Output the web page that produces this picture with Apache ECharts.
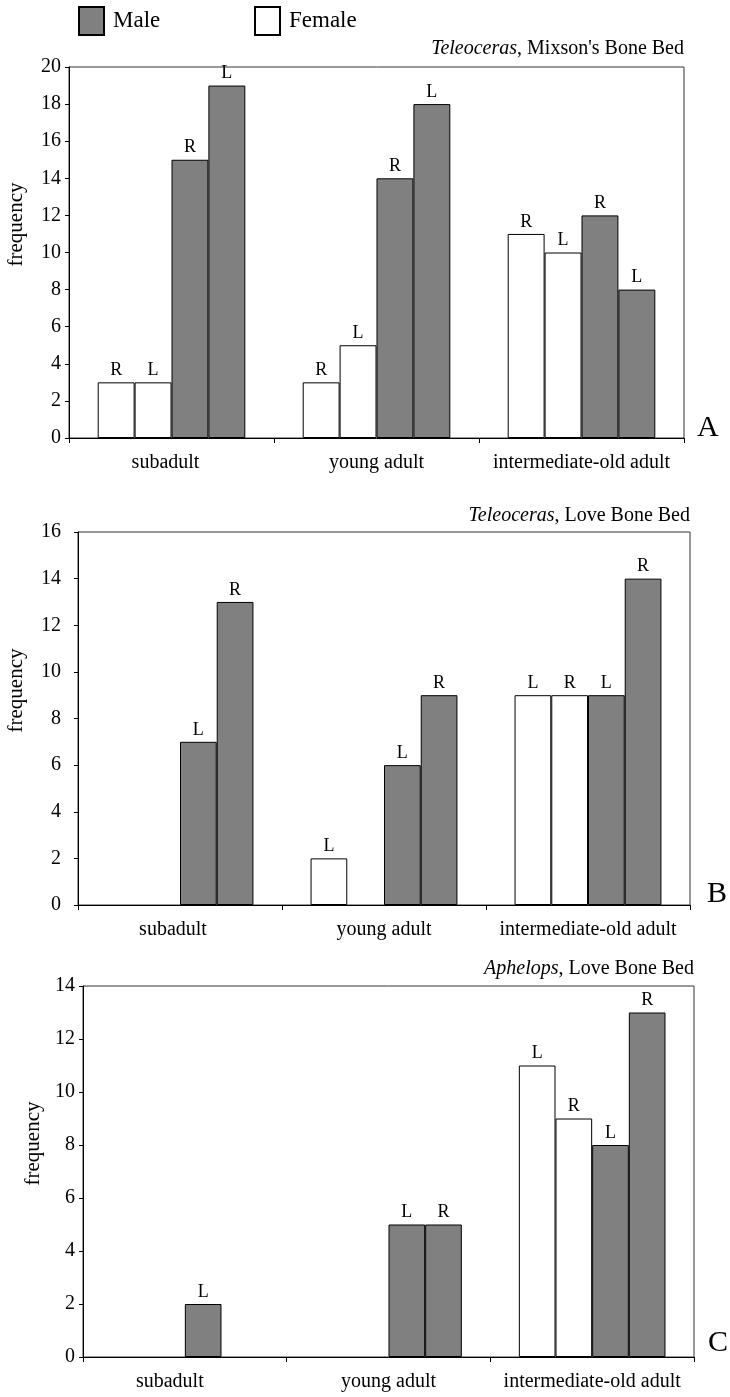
<!DOCTYPE html>
<html>
<head>
<meta charset="utf-8">
<script src="https://cdn.jsdelivr.net/npm/echarts@6/dist/echarts.min.js"></script>
<style>
  html, body { margin: 0; padding: 0; background: #fff; }
  #chart { width: 730px; height: 1397px; }
</style>
</head>
<body>
<div id="chart"></div>
<script>
// age classes, shared by the three panels
const categories = ['subadult', 'young adult', 'intermediate-old adult'];

// A: Teleoceras, Mixson's Bone Bed (slots: female, female, male, male)
const aFemale1 = [3, 3, 11];
const aFemale2 = [3, 5, 10];
const aMale1 = [15, 14, 12];
const aMale2 = [19, 18, 8];
const aSides = ['R', 'L', 'R', 'L'];

// B: Teleoceras, Love Bone Bed
const bFemale1 = [0, 2, 9];
const bFemale2 = [0, 0, 9];
const bMale1 = [7, 6, 9];
const bMale2 = [13, 9, 14];
const bSides = ['L', 'R', 'L', 'R'];

// C: Aphelops, Love Bone Bed
const cFemale1 = [0, 0, 11];
const cFemale2 = [0, 0, 9];
const cMale1 = [2, 5, 8];
const cMale2 = [0, 5, 13];
const cSides = ['L', 'R', 'L', 'R'];

const yMax = [20, 16, 14];

const FONT = '"Liberation Serif", "DejaVu Serif", serif';
const GRAY = '#808080';

function bar(name, gridIdx, values, side, color) {
  return {
    name: name,
    type: 'bar',
    xAxisIndex: gridIdx,
    yAxisIndex: gridIdx,
    barGap: '0%',
    barCategoryGap: '28%',
    data: values.map(v => (v === 0 ? '-' : v)),
    itemStyle: { color: color, borderColor: '#000', borderWidth: 1 },
    label: {
      show: true,
      position: 'top',
      distance: 3,
      formatter: side,
      color: '#000',
      fontFamily: FONT,
      fontSize: 18
    }
  };
}

function panel(idx, f1, f2, m1, m2, sides) {
  return [
    bar('Female', idx, f1, sides[0], '#fff'),
    bar('Female', idx, f2, sides[1], '#fff'),
    bar('Male', idx, m1, sides[2], GRAY),
    bar('Male', idx, m2, sides[3], GRAY)
  ];
}

const grids = [
  { left: 69, top: 67, width: 615, height: 371 },
  { left: 78, top: 532, width: 612, height: 373 },
  { left: 83, top: 986, width: 611, height: 371 }
];
const nameGaps = [42, 51, 38];
const tickMargins = [8, 17, 8];
// "subadult" sits a bit left of its category centre in the original
const firstShift = [6, 7, 15];

const legendBase = {
  icon: 'rect', padding: 0, itemWidth: 25, itemHeight: 28, selectedMode: false,
  textStyle: { fontFamily: FONT, fontSize: 23, color: '#000', padding: [0, 0, 0, 4] }
};

const chart = echarts.init(document.getElementById('chart'));
chart.setOption({
  animation: false,
  textStyle: { fontFamily: FONT },
  legend: [
    Object.assign({ data: ['Male'], left: 78, top: 6 }, legendBase),
    Object.assign({ data: ['Female'], left: 254, top: 6 }, legendBase)
  ],
  title: [
    { text: "{i|Teleoceras}, Mixson's Bone Bed", right: 46, top: 39 },
    { text: '{i|Teleoceras}, Love Bone Bed', right: 40, top: 506 },
    { text: '{i|Aphelops}, Love Bone Bed', right: 36, top: 959 }
  ].map(t => Object.assign(t, {
    padding: 0,
    textStyle: {
      fontFamily: FONT, fontSize: 20, fontWeight: 'normal', color: '#000',
      rich: { i: { fontFamily: FONT, fontSize: 20, fontStyle: 'italic', color: '#000' } }
    }
  })),
  graphic: [
    { type: 'text', left: 697, top: 413, style: { text: 'A', font: '30px ' + FONT, fill: '#000' } },
    { type: 'text', left: 707, top: 879, style: { text: 'B', font: '30px ' + FONT, fill: '#000' } },
    { type: 'text', left: 708, top: 1328, style: { text: 'C', font: '30px ' + FONT, fill: '#000' } }
  ],
  grid: grids.map(g => Object.assign(g, {
    show: true, borderColor: '#333', borderWidth: 1, backgroundColor: 'transparent',
    containLabel: false, outerBoundsMode: 'none'
  })),
  xAxis: grids.map((g, i) => ({
    type: 'category',
    gridIndex: i,
    data: categories,
    axisLine: { lineStyle: { color: '#000', width: 1 } },
    axisTick: { show: true, length: 5, lineStyle: { color: '#000' } },
    axisLabel: {
      interval: 0, margin: 15, color: '#000', fontFamily: FONT, fontSize: 20,
      formatter: (v, k) => (k === 0 ? '{s|' + v + '}' : v),
      rich: {
        s: { fontFamily: FONT, fontSize: 20, color: '#000', padding: [0, firstShift[i] * 2, 0, 0] }
      }
    }
  })),
  yAxis: grids.map((g, i) => ({
    type: 'value',
    gridIndex: i,
    min: 0,
    max: yMax[i],
    interval: 2,
    name: 'frequency',
    nameLocation: 'middle',
    nameRotate: 90,
    nameGap: nameGaps[i],
    // the label sits a little above the middle of the axis
    nameTextStyle: { color: '#000', fontFamily: FONT, fontSize: 21, padding: [0, 0, 0, 56] },
    splitLine: { show: false },
    axisLine: { show: true, lineStyle: { color: '#000', width: 1 } },
    axisTick: { show: true, length: 4, lineStyle: { color: '#000' } },
    axisLabel: { margin: tickMargins[i], color: '#000', fontFamily: FONT, fontSize: 20 }
  })),
  series: [].concat(
    panel(0, aFemale1, aFemale2, aMale1, aMale2, aSides),
    panel(1, bFemale1, bFemale2, bMale1, bMale2, bSides),
    panel(2, cFemale1, cFemale2, cMale1, cMale2, cSides)
  )
});
</script>
</body>
</html>
